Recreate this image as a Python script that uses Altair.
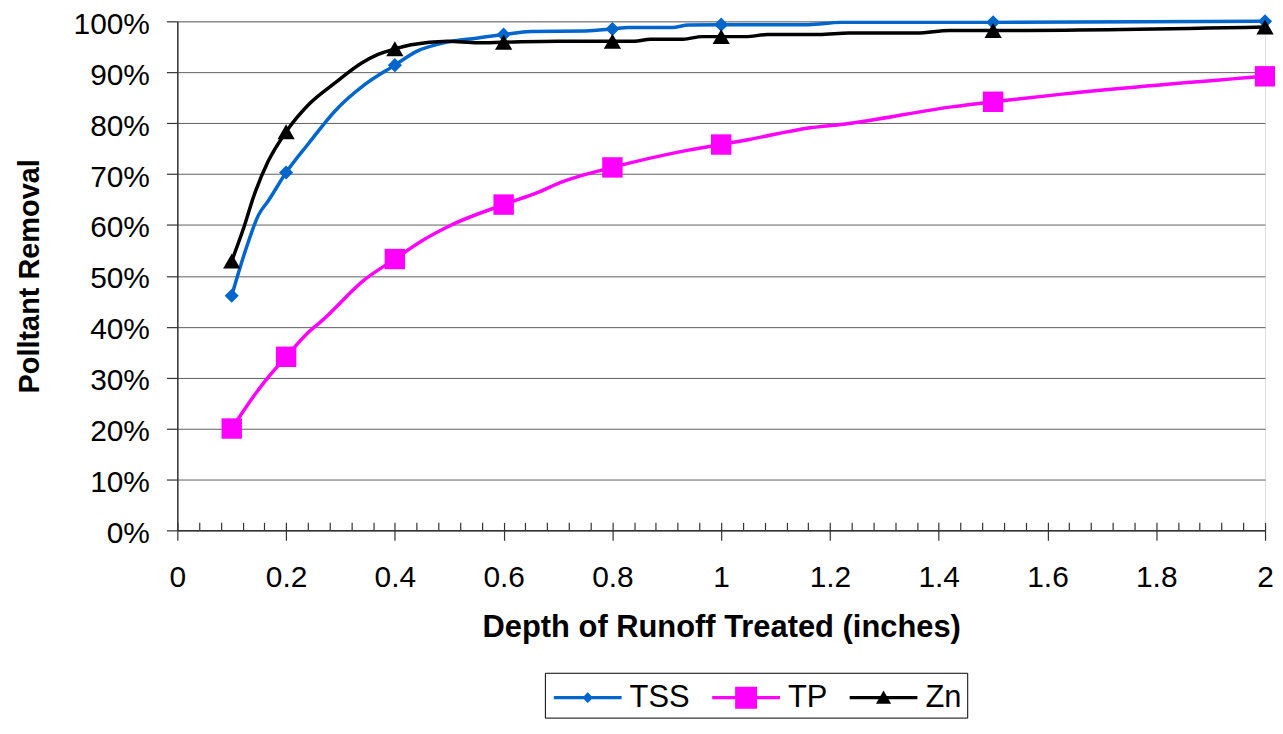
import altair as alt
import pandas as pd

# ---------------- data ----------------
series_names = ["TSS", "TP", "Zn"]
series_colors = ["#0066CC", "#FF00FF", "#000000"]

marker_depth = [0.1, 0.2, 0.4, 0.6, 0.8, 1.0, 1.5, 2.0]
tss_marker_pct = [46.1, 70.3, 91.4, 97.4, 98.5, 99.35, 99.8, 100.0]
tp_marker_pct = [20.0, 34.1, 53.3, 64.0, 71.3, 75.8, 84.2, 89.2]
zn_marker_pct = [52.9, 78.3, 94.6, 95.9, 96.1, 97.0, 98.2, 98.9]

tss_line_depth = [0.1, 0.125, 0.15, 0.167, 0.2, 0.242, 0.29, 0.345, 0.4, 0.44, 0.495, 0.55,
                  0.6, 0.65, 0.75, 0.8, 0.83, 0.91, 0.94, 1.0, 1.16, 1.22, 1.5, 2.0]
tss_line_pct = [46.1, 54.9, 62.1, 64.7, 70.3, 76.1, 82.4, 87.6, 91.4, 94.1, 95.9, 96.7,
                97.4, 98.0, 98.1, 98.5, 98.8, 98.8, 99.3, 99.35, 99.35, 99.8, 99.8, 100.0]

tp_line_depth = [0.1, 0.144, 0.168, 0.2, 0.242, 0.266, 0.345, 0.4, 0.45, 0.5, 0.6, 0.663,
                 0.706, 0.8, 0.94, 1.0, 1.052, 1.164, 1.225, 1.424, 1.5, 1.627, 2.0]
tp_line_pct = [20.0, 26.9, 30.2, 34.1, 39.0, 41.2, 49.3, 53.3, 56.9, 59.8, 64.0, 66.4,
               68.4, 71.3, 74.7, 75.8, 76.8, 79.1, 79.8, 83.2, 84.2, 85.7, 89.2]

zn_line_depth = [0.1, 0.12, 0.143, 0.167, 0.2, 0.242, 0.29, 0.339, 0.369, 0.4, 0.43, 0.497,
                 0.552, 0.6, 0.7, 0.8, 0.84, 0.87, 0.93, 0.965, 1.0, 1.045, 1.085, 1.18,
                 1.235, 1.36, 1.42, 1.5, 2.0]
zn_line_pct = [52.9, 58.8, 66.4, 72.5, 78.3, 83.7, 87.9, 91.8, 93.5, 94.6, 95.4, 96.1,
               95.8, 95.9, 96.1, 96.1, 96.1, 96.5, 96.5, 97.0, 97.0, 97.0, 97.4, 97.4,
               97.7, 97.7, 98.2, 98.2, 98.9]

x_tick_values = [0, 0.2, 0.4, 0.6, 0.8, 1, 1.2, 1.4, 1.6, 1.8, 2]
x_minor_values = [round(i * 0.04, 2) for i in range(51)]
y_tick_values = [0, 10, 20, 30, 40, 50, 60, 70, 80, 90, 100]

# ---------------- layout / style ----------------
FONT = "Liberation Sans"
W, H = 1092, 511

x_scale = alt.Scale(domain=[0, 2], nice=False, zero=True)
y_scale = alt.Scale(domain=[0, 100], nice=False)

x_axis_main = alt.Axis(
    values=x_tick_values, format="~g", grid=False,
    domainColor="#333333", domainWidth=1.5, tickColor="#333333", tickWidth=1.2,
    tickSize=10, labelPadding=22, labelFont=FONT, labelFontSize=30, labelColor="black",
    labelFlush=False, labelOverlap=False,
    title="Depth of Runoff Treated (inches)", titleFont=FONT, titleFontSize=31,
    titleFontWeight="bold", titleColor="black", titleX=W / 2, titleY=107,
    titleAlign="center", titleBaseline="alphabetic",
)
x_axis_minor = alt.Axis(
    orient="top", offset=-H, values=x_minor_values, labels=False, domain=False,
    grid=False, tickSize=8, tickColor="#333333", tickWidth=1.2, title=None,
)
y_axis = alt.Axis(
    orient="left", values=y_tick_values, labelExpr="datum.value + '%'", grid=True,
    gridColor="#5f5f5f", gridWidth=1,
    domainColor="#333333", domainWidth=1.5, tickColor="#333333", tickWidth=1.2,
    tickSize=11, labelPadding=17, labelOffset=3, labelFont=FONT, labelFontSize=30,
    labelColor="black", labelFlush=False, labelOverlap=False,
    title="Polltant Removal", titleFont=FONT, titleFontSize=29, titleFontWeight="bold",
    titleColor="black", titleAngle=270, titleX=-148, titleY=H / 2,
    titleAlign="center", titleBaseline="middle",
)


def line_df(depth, pct):
    return pd.DataFrame({"depth": depth, "pct": pct})


series_lines = [
    line_df(tss_line_depth, tss_line_pct),
    line_df(tp_line_depth, tp_line_pct),
    line_df(zn_line_depth, zn_line_pct),
]
series_markers = [
    line_df(marker_depth, tss_marker_pct),
    line_df(marker_depth, tp_marker_pct),
    line_df(marker_depth, zn_marker_pct),
]
marker_shapes = ["diamond", "square", "triangle-up"]
marker_sizes = [200, 420, 300]

layers = []
for i in range(3):
    xa = x_axis_main if i == 0 else None
    ya = y_axis if i == 0 else None
    ln = alt.Chart(series_lines[i]).mark_line(
        color=series_colors[i], strokeWidth=3.5, interpolate="monotone"
    ).encode(
        x=alt.X("depth:Q", scale=x_scale, axis=xa),
        y=alt.Y("pct:Q", scale=y_scale, axis=ya),
    )
    xm = x_axis_minor if i == 0 else None
    pt = alt.Chart(series_markers[i]).mark_point(
        filled=True, shape=marker_shapes[i], size=marker_sizes[i],
        color=series_colors[i], opacity=1, strokeWidth=0,
    ).encode(
        x=alt.X("depth:Q", scale=x_scale, axis=xm),
        y=alt.Y("pct:Q", scale=y_scale, axis=None),
    )
    layers += [ln, pt]

# legend symbols: line segment + marker (unit box, scaled by symbolSize)
legend_paths = [
    "M-1,-0.08L2.4,-0.08L2.4,0.08L-1,0.08Z M0.7,-0.27L0.97,0L0.7,0.27L0.43,0Z",
    "M-1,-0.08L2.4,-0.08L2.4,0.08L-1,0.08Z M0.15,-0.55L1.25,-0.55L1.25,0.55L0.15,0.55Z",
    "M-1,-0.08L2.4,-0.08L2.4,0.08L-1,0.08Z M0.7,-0.36L1.08,0.3L0.32,0.3Z",
]
leg = alt.Legend(
    orient="none", legendX=369, legendY=654, direction="horizontal", title=None,
    strokeColor="black", fillColor="white", padding=5, cornerRadius=0,
    labelFont=FONT, labelFontSize=31, labelColor="black", labelOffset=36,
    symbolSize=1600, symbolOffset=4, columnPadding=18,
    symbolOpacity=1, symbolStrokeWidth=0,
)
legend_df = pd.DataFrame({"series": series_names, "depth": [0, 0, 0], "pct": [0, 0, 0]})
legend_layer = alt.Chart(legend_df).mark_point(filled=True).encode(
    fill=alt.Fill("series:N", scale=alt.Scale(domain=series_names, range=series_colors), legend=leg),
    shape=alt.Shape("series:N", scale=alt.Scale(domain=series_names, range=legend_paths), legend=leg),
).transform_filter("false")
layers.append(legend_layer)

chart = alt.layer(*layers).resolve_axis(x="independent", y="independent").properties(
    width=W, height=H,
    padding={"left": 170, "top": 12, "right": 10, "bottom": 189},
    autosize=alt.AutoSizeParams(type="none"),
).configure_view(stroke="#808080", strokeWidth=1).configure(background="white")

chart.save("out.html", embed_options={"renderer": "svg", "actions": False})
